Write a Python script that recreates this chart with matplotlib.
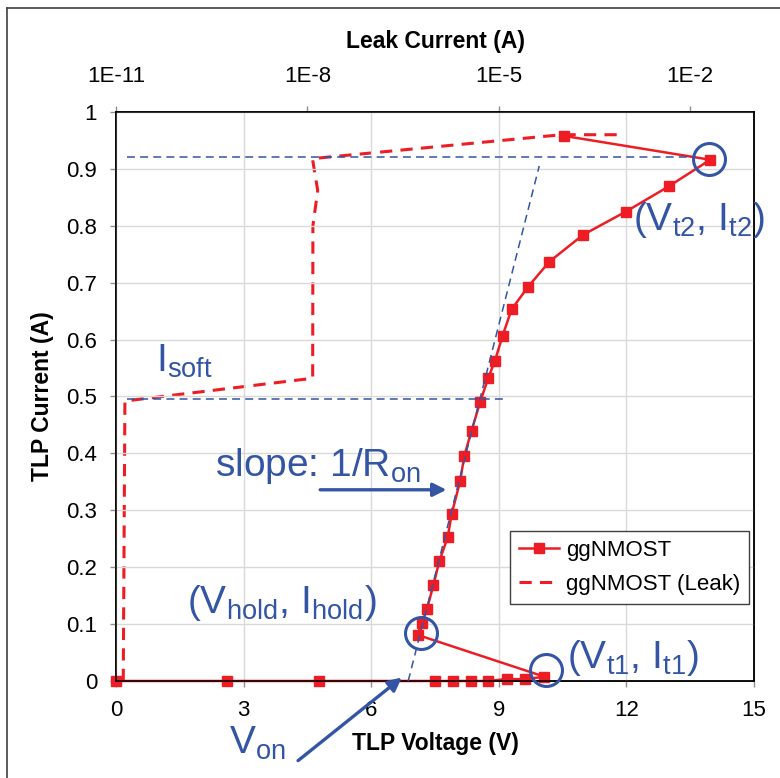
import matplotlib
matplotlib.use('Agg')
import matplotlib.pyplot as plt
from matplotlib.lines import Line2D
from matplotlib.ticker import NullLocator

plt.rcParams['font.family'] = ['Liberation Sans', 'DejaVu Sans']
plt.rcParams['mathtext.fontset'] = 'custom'
plt.rcParams['mathtext.rm'] = 'Liberation Sans'
plt.rcParams['mathtext.it'] = 'Liberation Sans:italic'
plt.rcParams['mathtext.bf'] = 'Liberation Sans:bold'

RED = '#ee1c24'
BLUE = '#3455a4'
GRID = '#d9d9d9'

# TLP I-V curve of the ggNMOST
tlp_voltage = [0, 2.61, 4.77, 7.5, 7.92, 8.35, 8.75, 9.19, 9.62, 10.07,
               7.09, 7.19, 7.31, 7.46, 7.6, 7.8, 7.89, 8.09, 8.19, 8.36,
               8.56, 8.75, 8.91, 9.09, 9.3, 9.69, 10.19, 10.98, 11.99, 12.99,
               13.97, 10.53]
tlp_current = [0, 0, 0, 0, 0, 0, 0, 0.0035, 0.003, 0.0076,
               0.081, 0.102, 0.126, 0.168, 0.21, 0.253, 0.293, 0.351, 0.396, 0.44,
               0.49, 0.532, 0.563, 0.607, 0.653, 0.693, 0.737, 0.784, 0.825, 0.869,
               0.916, 0.958]

# leakage after each pulse (top axis) against TLP current
leak_current = [1.3e-11, 1.38e-11, 1.21e-8, 1.22e-8, 1.45e-8, 1.2e-8, 9.6e-5, 8e-4]
leak_tlp_current = [0.0, 0.492, 0.532, 0.80, 0.862, 0.918, 0.96, 0.96]

# guide lines
it2_line_v = [0.25, 13.57]
it2_level = 0.92
isoft_line_v = [0.25, 9.1]
isoft_level = 0.496
ron_line_v = [6.87, 9.95]
ron_line_i = [0.0, 0.905]

# circled points: hold, t1, t2
circle_v = [7.16, 10.1, 13.93]
circle_i = [0.084, 0.019, 0.917]

x_ticks = [0, 3, 6, 9, 12, 15]
y_ticks = [0, 0.1, 0.2, 0.3, 0.4, 0.5, 0.6, 0.7, 0.8, 0.9, 1]
y_ticklabels = ['0', '0.1', '0.2', '0.3', '0.4', '0.5', '0.6', '0.7', '0.8', '0.9', '1']
leak_ticks = [1e-11, 1e-8, 1e-5, 1e-2]
leak_ticklabels = ['1E-11', '1E-8', '1E-5', '1E-2']

fig = plt.figure(figsize=(7.8, 7.78), dpi=100)
ax = fig.add_axes([0.1487, 0.1247, 0.8180, 0.7314])
ax2 = ax.twiny()
ax.set_zorder(ax2.get_zorder() + 1)
ax.patch.set_visible(False)

# leak curve on the log axis
h_leak, = ax2.plot(leak_current, leak_tlp_current, color=RED, lw=2.2, dashes=(4, 2.7))
ax2.set_xscale('log')
ax2.set_xlim(1e-11, 1e-1)
ax2.set_xticks(leak_ticks)
ax2.set_xticklabels(leak_ticklabels)
ax2.xaxis.set_minor_locator(NullLocator())
ax2.tick_params(axis='x', direction='out', length=4, width=1, color='#909090',
                labelsize=16, pad=14)
ax2.set_xlabel('Leak Current (A)', fontsize=16.5, fontweight='bold', labelpad=13)

# TLP curve
h_tlp, = ax.plot(tlp_voltage, tlp_current, color=RED, lw=1.8, marker='s', ms=6.5,
                 mfc=RED, mec=RED, clip_on=False)

# guide lines and circles
ax.plot(it2_line_v, [it2_level, it2_level], color=BLUE, lw=1.1, dashes=(5.2, 3.4), zorder=4)
ax.plot(isoft_line_v, [isoft_level, isoft_level], color=BLUE, lw=1.1, dashes=(5.2, 3.4), zorder=4)
ax.plot(ron_line_v, ron_line_i, color=BLUE, lw=1.1, dashes=(5.2, 3.4), zorder=4)
ax.plot(circle_v, circle_i, ls='none', marker='o', ms=23, mfc='none', mec=BLUE,
        mew=2.2, zorder=5, clip_on=False)

ax.set_xlim(0, 15)
ax.set_ylim(0, 1)
ax.set_xticks(x_ticks)
ax.set_yticks(y_ticks)
ax.set_yticklabels(y_ticklabels)
ax.grid(True, color=GRID, lw=1)
ax.set_axisbelow(True)
ax.tick_params(direction='out', length=4, width=1, color='#909090', labelsize=16, pad=9.5)
for a in (ax, ax2):
    for s in a.spines.values():
        s.set_color('black')
        s.set_linewidth(1.1)

ax.set_xlabel('TLP Voltage (V)', fontsize=16.5, fontweight='bold', labelpad=8)
ax.set_ylabel('TLP Current (A)', fontsize=16.5, fontweight='bold', labelpad=9)

# annotations
tsize = 28
ax.text(0.94, 0.543, r'I$_{\mathrm{soft}}$', color=BLUE, fontsize=tsize, va='baseline')
ax.text(2.33, 0.36, r'slope: 1/R$_{\mathrm{on}}$', color=BLUE, fontsize=tsize, va='baseline')
ax.text(1.67, 0.12, r'(V$_{\mathrm{hold}}$, I$_{\mathrm{hold}}$)', color=BLUE,
        fontsize=tsize, va='baseline')
ax.text(10.6, 0.023, r'(V$_{\mathrm{t1}}$, I$_{\mathrm{t1}}$)', color=BLUE,
        fontsize=tsize, va='baseline')
ax.text(12.15, 0.793, r'(V$_{\mathrm{t2}}$, I$_{\mathrm{t2}}$)', color=BLUE,
        fontsize=tsize, va='baseline')
ax.text(2.66, -0.128, r'V$_{\mathrm{on}}$', color=BLUE, fontsize=tsize, va='baseline')

arrow = dict(arrowstyle='-|>', color=BLUE, lw=2.4, mutation_scale=20, shrinkA=0, shrinkB=0)
ax.annotate('', xy=(7.77, 0.336), xytext=(4.8, 0.336), arrowprops=arrow)
ax.annotate('', xy=(6.72, 0.006), xytext=(4.28, -0.14), arrowprops=arrow,
            annotation_clip=False)

leg = ax.legend([h_tlp, h_leak], ['ggNMOST', 'ggNMOST (Leak)'], loc='lower right',
                bbox_to_anchor=(0.992, 0.135), fontsize=16, fancybox=False,
                edgecolor='#404040', framealpha=1, borderpad=0.4, handlelength=1.8,
                handletextpad=0.3, labelspacing=0.6, borderaxespad=0)
leg.get_frame().set_linewidth(1.0)

# frame lines of the original picture (top and left)
fig.add_artist(Line2D([7 / 780, 1], [1 - 8 / 778, 1 - 8 / 778], color='#404040', lw=1.2,
                      transform=fig.transFigure))
fig.add_artist(Line2D([7 / 780, 7 / 780], [0, 1 - 8 / 778], color='#404040', lw=1.2,
                      transform=fig.transFigure))

fig.savefig('out.png', dpi=100)
